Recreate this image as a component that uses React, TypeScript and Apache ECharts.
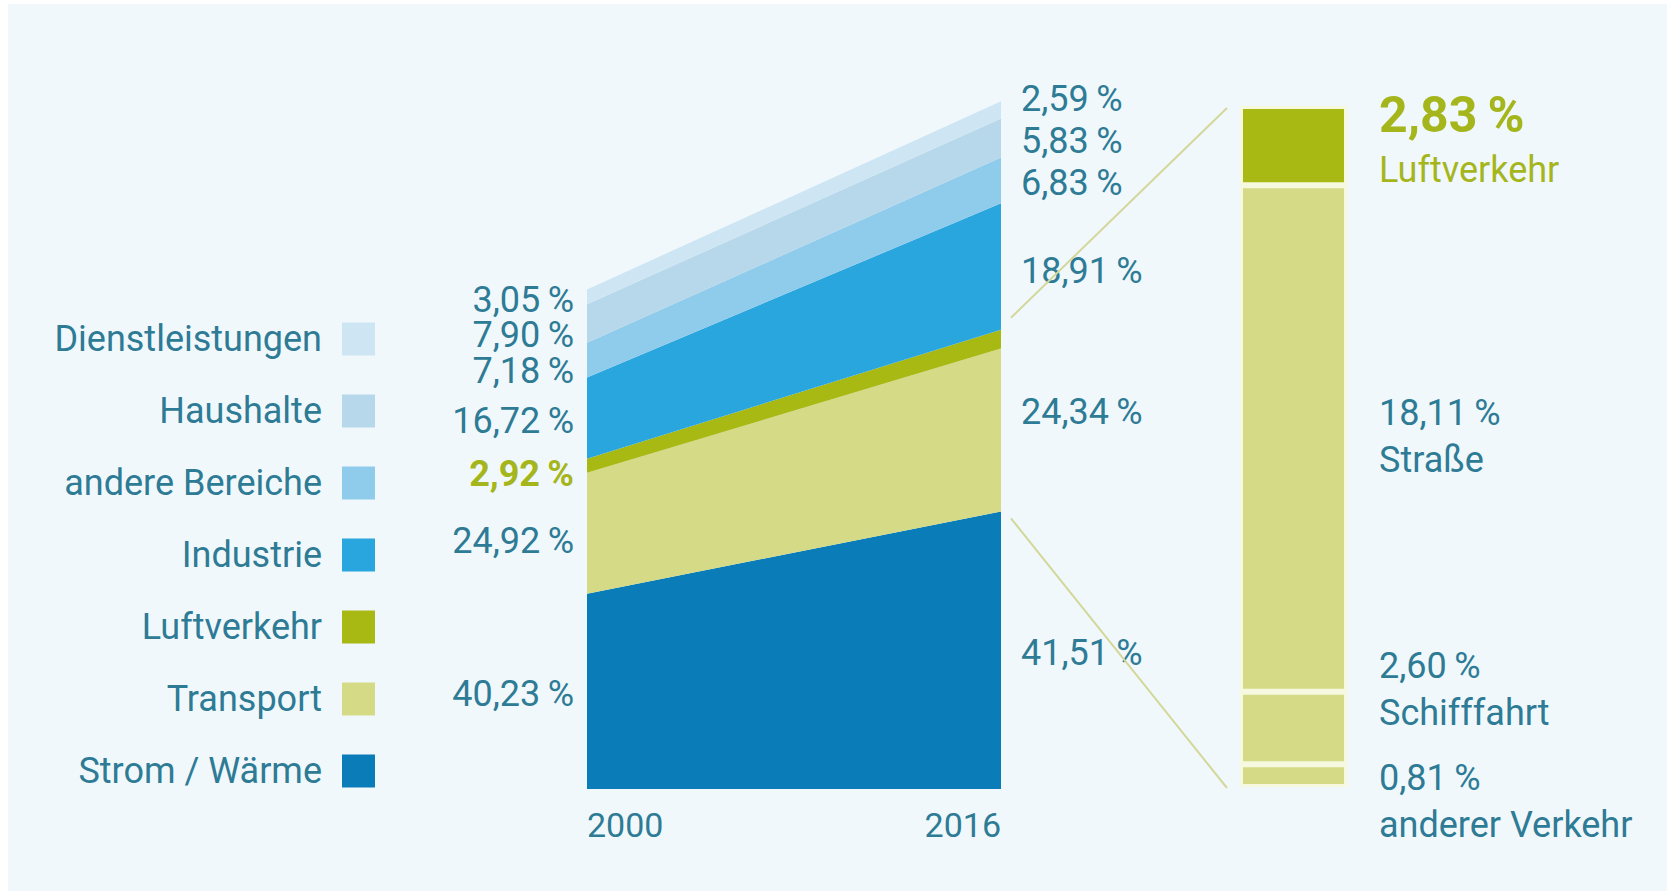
import React, { useEffect, useRef } from 'react';
import * as echarts from 'echarts';

// ---------- data ----------
const years = ['2000', '2016'];
const sectors = ['Strom / Wärme', 'Transport', 'Luftverkehr', 'Industrie', 'andere Bereiche', 'Haushalte', 'Dienstleistungen'];
const shares2000 = [40.23, 24.92, 2.92, 16.72, 7.18, 7.9, 3.05];
const shares2016 = [41.51, 24.34, 2.83, 18.91, 6.83, 5.83, 2.59];
// relative size of the total in each year (read from the heights of the area)
const totalIndex = [100, 137.8];
const transportParts = ['anderer Verkehr', 'Schifffahrt', 'Straße', 'Luftverkehr'];
const transportShares = [0.81, 2.6, 18.11, 2.83];

// ---------- styles / layout ----------
const W = 1667;
const H = 891;
const FONT = 'Roboto, "Noto Sans", sans-serif';
const TEXT = '#2e7b96';
const OLIVE = '#a5b61c';
const BG = '#f1f8fc';
const FS = 36;
const sectorColors = ['#0a7db9', '#d5da86', '#a9b914', '#29a6de', '#8fcbeb', '#b7d7ea', '#cee6f3'];
const partColors = ['#d5da86', '#d5da86', '#d5da86', '#a9b914'];
const G0 = { left: 587, top: 61, width: 414, height: 728 };
const G1 = { left: 1240, top: 106, width: 107, height: 681 };
const nudge2000 = [0, 5, 5, 0, 8, 9, 0];
const nudge2016 = [0, -21, 0, 2, 0, 0, -14];
const partOffsets = [[0, 26], [0, -38], [0, -2], [0, -6]];

const fmt = (v: number) => v.toFixed(2).replace('.', ',') + '\u2009%';

export default function App() {
  const ref = useRef<HTMLDivElement>(null);

  useEffect(() => {
    if (!ref.current) return;
    const chart = echarts.init(ref.current, null, { renderer: 'svg' });

    const areaSeries = sectors.map((name, i) => ({
      name,
      type: 'line',
      stack: 'total',
      xAxisIndex: 0,
      yAxisIndex: 0,
      symbol: 'none',
      silent: true,
      color: sectorColors[i],
      lineStyle: { width: 0 },
      itemStyle: { color: sectorColors[i] },
      areaStyle: { color: sectorColors[i], opacity: 1 },
      data: [
        (shares2000[i] * totalIndex[0]) / 100,
        (shares2016[i] * totalIndex[1]) / 100,
      ],
    }));

    const barSeries = transportParts.map((name, i) => {
      const isAir = i === transportParts.length - 1;
      return {
        name: 'bar-' + name,
        type: 'bar',
        stack: 'transport',
        xAxisIndex: 1,
        yAxisIndex: 1,
        barWidth: '100%',
        silent: true,
        itemStyle: { color: partColors[i], borderColor: '#f6f9de', borderWidth: 3 },
        label: {
          show: true,
          position: 'right',
          distance: 32,
          offset: partOffsets[i],
          formatter: isAir
            ? `{va|${fmt(transportShares[i])}}\n{na|${name}}`
            : `{v|${fmt(transportShares[i])}}\n{n|${name}}`,
          rich: {
            va: { fontSize: 50, fontWeight: 'bold', color: OLIVE, fontFamily: FONT, lineHeight: 60 },
            na: { fontSize: FS, color: OLIVE, fontFamily: FONT, lineHeight: 50 },
            v: { fontSize: FS, color: TEXT, fontFamily: FONT, lineHeight: 47 },
            n: { fontSize: FS, color: TEXT, fontFamily: FONT, lineHeight: 47 },
          },
        },
        data: [transportShares[i]],
      };
    });

    const barMax = transportShares.reduce((a, b) => a + b, 0);

    chart.setOption({
      animation: false,
      backgroundColor: BG,
      grid: [
        { ...G0, containLabel: false },
        { ...G1, containLabel: false },
      ],
      xAxis: [
        {
          type: 'category',
          gridIndex: 0,
          data: years,
          boundaryGap: false,
          axisLine: { show: false },
          axisTick: { show: false },
          splitLine: { show: false },
          axisLabel: {
            fontSize: 34,
            color: TEXT,
            fontFamily: FONT,
            margin: 19,
            alignMinLabel: 'left',
            alignMaxLabel: 'right',
          },
        },
        { type: 'category', gridIndex: 1, data: ['Transport 2016'], show: false },
      ],
      yAxis: [
        { type: 'value', gridIndex: 0, min: 0, max: 150, show: false, splitLine: { show: false } },
        { type: 'value', gridIndex: 1, min: 0, max: barMax, show: false, splitLine: { show: false } },
      ],
      legend: {
        orient: 'vertical',
        right: W - 380,
        top: 316,
        align: 'right',
        icon: 'rect',
        itemWidth: 33,
        itemHeight: 33,
        itemGap: 36,
        selectedMode: false,
        data: [...sectors].reverse(),
        itemStyle: { borderWidth: 0 },
        textStyle: { fontSize: FS, color: TEXT, fontFamily: FONT, lineHeight: 33, padding: [0, 15, 0, 0] },
      },
      series: [...areaSeries, ...barSeries],
    });

    // labels and connector lines, positioned via the chart's own scales
    const px = (xi: number, v: number) =>
      chart.convertToPixel({ xAxisIndex: 0, yAxisIndex: 0 }, [xi, v]) as number[];
    const graphics: any[] = [
      { type: 'rect', shape: { x: 0, y: 0, width: W, height: 4 }, style: { fill: '#ffffff' }, silent: true },
      { type: 'rect', shape: { x: 0, y: 0, width: 8, height: H }, style: { fill: '#ffffff' }, silent: true },
    ];
    const cols = [shares2000, shares2016];
    const tops: number[][] = [[], []];
    cols.forEach((shares, yi) => {
      let cum = 0;
      shares.forEach((s, i) => {
        const v = (s * totalIndex[yi]) / 100;
        const pb = px(yi, cum);
        cum += v;
        const pt = px(yi, cum);
        tops[yi][i] = pt[1];
        if (yi === 1 && i === 2) return; // Luftverkehr 2016 is labelled at the bar
        const mid = (pb[1] + pt[1]) / 2 + 3 + (yi === 0 ? nudge2000[i] : nudge2016[i]);
        const isAir = i === 2;
        graphics.push({
          type: 'text',
          x: yi === 0 ? pb[0] - 13 : pb[0] + 20,
          y: mid,
          silent: true,
          style: {
            text: fmt(s),
            fill: isAir ? OLIVE : TEXT,
            fontSize: FS,
            lineHeight: 32,
            fontWeight: isAir ? 'bold' : 'normal',
            fontFamily: FONT,
            align: yi === 0 ? 'right' : 'left',
            verticalAlign: 'middle',
          },
        });
      });
    });

    const barTop = chart.convertToPixel({ xAxisIndex: 1, yAxisIndex: 1 }, [0, barMax]) as number[];
    const barBottom = chart.convertToPixel({ xAxisIndex: 1, yAxisIndex: 1 }, [0, 0]) as number[];
    const x16 = px(1, 0)[0];
    const lineStyle = { stroke: '#d3d79a', lineWidth: 2 };
    graphics.push({
      type: 'line',
      silent: true,
      shape: { x1: x16 + 10, y1: tops[1][2] - 12, x2: G1.left - 13, y2: barTop[1] + 2 },
      style: lineStyle,
    });
    graphics.push({
      type: 'line',
      silent: true,
      shape: { x1: x16 + 10, y1: tops[1][0] + 7, x2: G1.left - 13, y2: barBottom[1] + 1 },
      style: lineStyle,
    });

    chart.setOption({ graphic: graphics });

    return () => chart.dispose();
  }, []);

  return (
    <div
      ref={ref}
      style={{ position: 'fixed', left: 0, top: 0, width: W, height: H }}
    />
  );
}
